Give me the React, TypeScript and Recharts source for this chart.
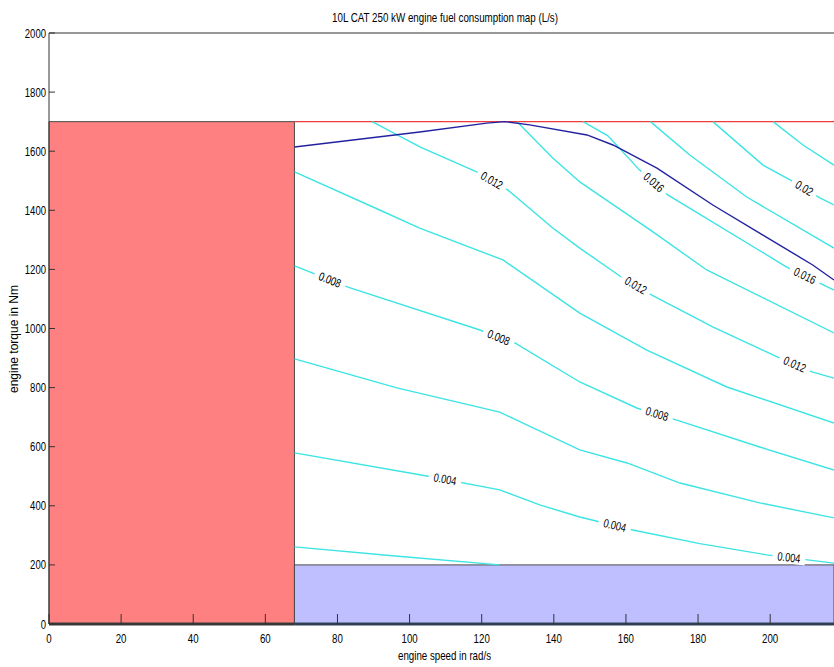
import React from 'react';
import { ComposedChart, Line, XAxis, YAxis, ReferenceArea, Scatter } from 'recharts';

const W = 834;
const H = 667;
const PLOT_LEFT = 49;
const PLOT_TOP = 33;
const PLOT_BOTTOM = 624;
const FONT = '"Liberation Sans", Arial, sans-serif';

// axis ranges (the right end of the map is cut off in the original picture)
const X_MAX = 217.7;
const Y_MAX = 2000;
const xTicks = [0, 20, 40, 60, 80, 100, 120, 140, 160, 180, 200];
const yTicks = [0, 200, 400, 600, 800, 1000, 1200, 1400, 1600, 1800, 2000];

// operating limits
const idleSpeed = 68.07;
const torqueCeiling = 1700;
const torqueFloor = 200;

type Pt = { x: number; y: number };

// iso-consumption lines (L/s)
const c002: Pt[] = [
  { x: 68.1, y: 261 }, { x: 96, y: 230 }, { x: 125, y: 200 },
];
const c004: Pt[] = [
  { x: 68.1, y: 579 }, { x: 104.8, y: 501 }, { x: 125, y: 454 }, { x: 136.1, y: 403 },
  { x: 147.2, y: 362 }, { x: 161.9, y: 318 }, { x: 180.5, y: 272 }, { x: 199.1, y: 234 },
  { x: 217.7, y: 206 },
];
const c006: Pt[] = [
  { x: 68.1, y: 897 }, { x: 96.5, y: 799 }, { x: 125, y: 717 }, { x: 147.2, y: 589 },
  { x: 160.3, y: 545 }, { x: 175, y: 477 }, { x: 197.1, y: 410 }, { x: 217.7, y: 359 },
];
const c008: Pt[] = [
  { x: 68.1, y: 1212 }, { x: 82.9, y: 1140 }, { x: 119.5, y: 995 }, { x: 126.4, y: 961 },
  { x: 129.2, y: 951 }, { x: 147.2, y: 819 }, { x: 163, y: 731 }, { x: 174.1, y: 690 },
  { x: 197.1, y: 599 }, { x: 217.7, y: 521 },
];
const c010: Pt[] = [
  { x: 68.1, y: 1530 }, { x: 91.7, y: 1401 }, { x: 102.8, y: 1340 }, { x: 125.9, y: 1232 },
  { x: 147.2, y: 1052 }, { x: 165.8, y: 927 }, { x: 188, y: 802 }, { x: 217.7, y: 680 },
];
const c012: Pt[] = [
  { x: 89.6, y: 1700 }, { x: 103, y: 1614 }, { x: 118.6, y: 1530 }, { x: 127.2, y: 1469 },
  { x: 139.7, y: 1340 }, { x: 147.2, y: 1272 }, { x: 159.1, y: 1171 }, { x: 167.2, y: 1113 },
  { x: 184.2, y: 1005 }, { x: 202.7, y: 900 }, { x: 211.6, y: 853 }, { x: 217.7, y: 832 },
];
const c014: Pt[] = [
  { x: 129.8, y: 1700 }, { x: 139.7, y: 1577 }, { x: 147.2, y: 1496 }, { x: 167.5, y: 1327 },
  { x: 182.4, y: 1198 }, { x: 217.7, y: 985 },
];
const c016: Pt[] = [
  { x: 148.1, y: 1700 }, { x: 155, y: 1652 }, { x: 163.8, y: 1536 }, { x: 171.6, y: 1452 },
  { x: 204.6, y: 1208 }, { x: 216, y: 1140 }, { x: 217.7, y: 1130 },
];
const c018: Pt[] = [
  { x: 166.8, y: 1700 }, { x: 177.7, y: 1587 }, { x: 193.5, y: 1445 }, { x: 217.7, y: 1272 },
];
const c020: Pt[] = [
  { x: 184.1, y: 1700 }, { x: 198, y: 1553 }, { x: 205.5, y: 1503 }, { x: 213.8, y: 1442 },
  { x: 217.7, y: 1418 },
];
const c022: Pt[] = [
  { x: 200.8, y: 1700 }, { x: 209.1, y: 1621 }, { x: 217.7, y: 1553 },
];

// max torque curve
const maxTorque: Pt[] = [
  { x: 68.1, y: 1614 }, { x: 102.8, y: 1665 }, { x: 121.4, y: 1695 }, { x: 126.4, y: 1700 },
  { x: 133.3, y: 1689 }, { x: 149.2, y: 1655 }, { x: 156.4, y: 1621 }, { x: 168.6, y: 1543 },
  { x: 184.1, y: 1418 }, { x: 198, y: 1316 }, { x: 211.8, y: 1215 }, { x: 217.7, y: 1164 },
];

const contours = [c002, c004, c006, c008, c010, c012, c014, c016, c018, c020, c022];
const levelNames = ['0.002', '0.004', '0.006', '0.008', '0.01', '0.012', '0.014', '0.016', '0.018', '0.02', '0.022'];

// inline labels: which level, at which speed
const labelLevels = ['0.012', '0.008', '0.008', '0.004', '0.016', '0.02', '0.012', '0.016', '0.012', '0.008', '0.004', '0.004'];
const labelSpeeds = [122.8, 77.9, 124.7, 109.8, 167.7, 209.4, 162.7, 209.6, 206.8, 168.6, 156.9, 205.2];

const PX_X = (W - PLOT_LEFT) / X_MAX;
const PX_Y = (PLOT_BOTTOM - PLOT_TOP) / Y_MAX;

const sampleAt = (pts: Pt[], x: number) => {
  for (let i = 0; i < pts.length - 1; i++) {
    const a = pts[i];
    const b = pts[i + 1];
    if (x >= a.x && x <= b.x) {
      const t = (x - a.x) / (b.x - a.x);
      return { y: a.y + t * (b.y - a.y), slope: (b.y - a.y) / (b.x - a.x) };
    }
  }
  const last = pts[pts.length - 1];
  return { y: last.y, slope: 0 };
};

const labelData = labelLevels.map((lv, i) => {
  const pts = contours[levelNames.indexOf(lv)];
  const s = sampleAt(pts, labelSpeeds[i]);
  const angle = (Math.atan((-s.slope * PX_Y) / PX_X) * 180) / Math.PI;
  return { x: labelSpeeds[i], y: s.y, text: lv, angle };
});

const ceilingLine: Pt[] = [{ x: idleSpeed, y: torqueCeiling }, { x: X_MAX, y: torqueCeiling }];
const zeroLeft: Pt[] = [{ x: 0, y: 0 }, { x: idleSpeed, y: 0 }];
const zeroRight: Pt[] = [{ x: idleSpeed, y: 0 }, { x: X_MAX, y: 0 }];

const ContourLabel = (props: any) => {
  const { cx, cy, payload } = props;
  if (cx == null || cy == null) return null;
  const tw = payload.text.length * 4.6;
  const w = tw + 10;
  return (
    <g transform={`translate(${cx},${cy}) rotate(${payload.angle})`}>
      <rect x={-w / 2} y={-6} width={w} height={12} fill="#fff" />
      <text
        x={0}
        y={4}
        textAnchor="middle"
        fontSize={12}
        fontFamily={FONT}
        fill="#000"
        textLength={tw}
        lengthAdjust="spacingAndGlyphs"
      >
        {payload.text}
      </text>
    </g>
  );
};

// MATLAB-ish narrow tick numbers
const XTick = (props: any) => {
  const { x, y, payload } = props;
  const s = String(payload.value);
  return (
    <text x={x} y={y + 11} textAnchor="middle" fontSize={13} fontFamily={FONT} fill="#000"
      textLength={s.length * 5.4} lengthAdjust="spacingAndGlyphs">
      {s}
    </text>
  );
};

const YTick = (props: any) => {
  const { x, y, payload } = props;
  const s = String(payload.value);
  return (
    <text x={x} y={y + 4.5} textAnchor="end" fontSize={13} fontFamily={FONT} fill="#000"
      textLength={s.length * 5.3} lengthAdjust="spacingAndGlyphs">
      {s}
    </text>
  );
};

export default function App() {
  return (
    <div style={{ position: 'absolute', left: 0, top: 0, width: W, height: H, background: '#fff' }}>
      <ComposedChart width={W} height={H} margin={{ top: 3, right: 0, bottom: 0, left: 0 }}>
        <XAxis
          type="number"
          dataKey="x"
          domain={[0, X_MAX]}
          ticks={xTicks}
          interval={0}
          height={43}
          tickSize={-10}
          tickMargin={18}
          stroke="#333"
          tick={<XTick />}
        />
        <XAxis
          xAxisId="top"
          orientation="top"
          type="number"
          dataKey="x"
          domain={[0, X_MAX]}
          ticks={xTicks}
          interval={0}
          height={30}
          tickSize={-10}
          stroke="#333"
          tick={false}
        />
        <YAxis
          type="number"
          dataKey="y"
          domain={[0, Y_MAX]}
          ticks={yTicks}
          interval={0}
          width={PLOT_LEFT}
          tickSize={-6}
          tickMargin={9}
          stroke="#333"
          tick={<YTick />}
        />
        <ReferenceArea x1={0} x2={idleSpeed} y1={0} y2={torqueCeiling} fill="#ff8080" fillOpacity={1} stroke="#4a4a4a" strokeWidth={1} />
        <ReferenceArea x1={idleSpeed} x2={X_MAX} y1={0} y2={torqueFloor} fill="#bfbfff" fillOpacity={1} stroke="#4a4a4a" strokeWidth={1} />
        <Line data={ceilingLine} dataKey="y" stroke="#ee3b3b" strokeWidth={1.3} dot={false} isAnimationActive={false} />
        {contours.map((pts, i) => (
          <Line
            key={levelNames[i]}
            data={pts}
            dataKey="y"
            type="linear"
            stroke="#3ce4e4"
            strokeWidth={1.4}
            dot={false}
            isAnimationActive={false}
          />
        ))}
        <Line data={maxTorque} dataKey="y" type="linear" stroke="#2222a0" strokeWidth={1.4} dot={false} isAnimationActive={false} />
        <Line data={zeroLeft} dataKey="y" stroke="#3c3c3c" strokeWidth={3} dot={false} isAnimationActive={false} />
        <Line data={zeroRight} dataKey="y" stroke="#2e4a68" strokeWidth={3} dot={false} isAnimationActive={false} />
        <Scatter data={labelData} dataKey="y" shape={ContourLabel} isAnimationActive={false} />
      </ComposedChart>
      <svg
        width={W}
        height={H}
        style={{ position: 'absolute', left: 0, top: 0, pointerEvents: 'none' }}
      >
        <text x={445} y={21.5} textAnchor="middle" fontSize={13} fontFamily={FONT} fill="#000"
          textLength={226} lengthAdjust="spacingAndGlyphs">
          10L CAT 250 kW engine fuel consumption map (L/s)
        </text>
        <text x={444.5} y={660} textAnchor="middle" fontSize={13} fontFamily={FONT} fill="#000"
          textLength={93} lengthAdjust="spacingAndGlyphs">
          engine speed in rad/s
        </text>
        <text transform="translate(18,339) rotate(-90)" textAnchor="middle" fontSize={12} fontFamily={FONT} fill="#000"
          textLength={108} lengthAdjust="spacingAndGlyphs">
          engine torque in Nm
        </text>
      </svg>
    </div>
  );
}
